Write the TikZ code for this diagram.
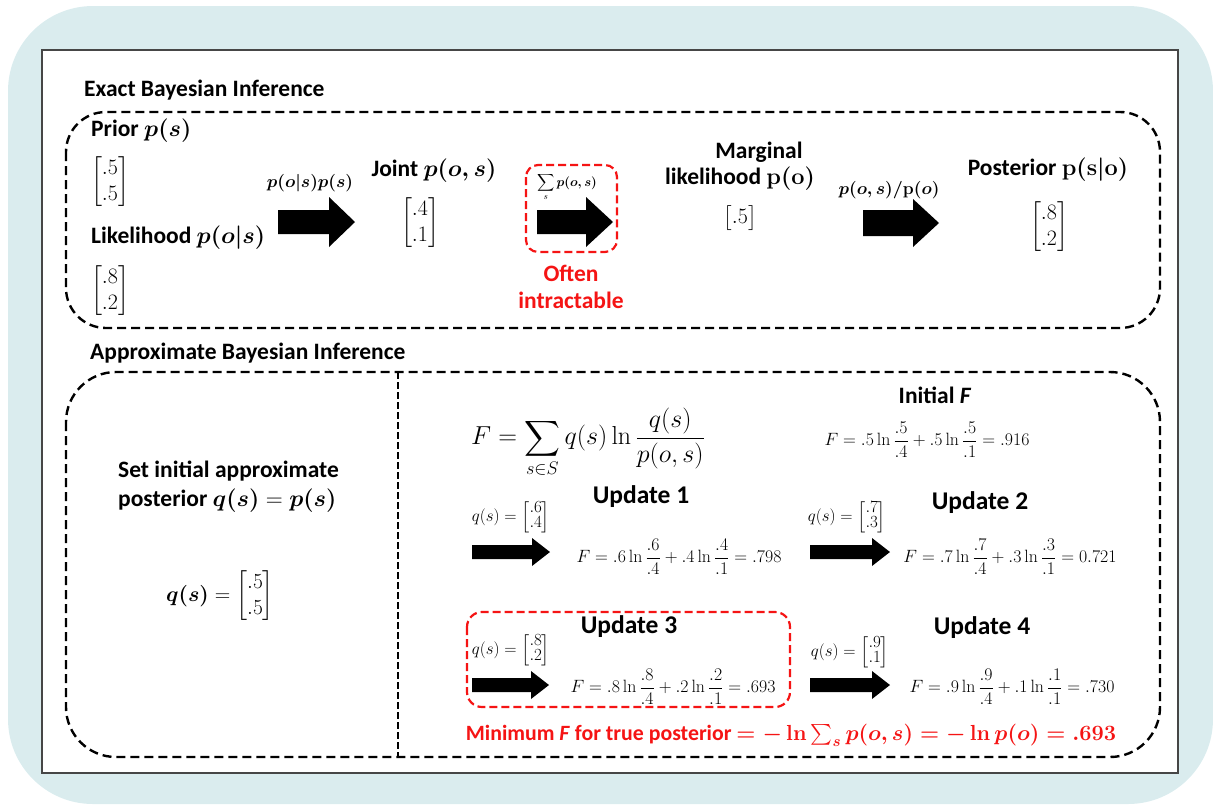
\documentclass[tikz,border=0pt]{standalone}
\usepackage{fix-cm}
\usepackage{amsmath}
\usepackage[no-math]{fontspec}
\newfontfamily\calibri{Carlito}

\definecolor{bgblue}{RGB}{218,236,238}
\definecolor{framegray}{RGB}{70,70,70}
\definecolor{alertred}{RGB}{245,20,20}

% solid block arrow: x start, x end, y, shaft half-thickness, head half-width, head length
\newcommand\blockarrow[6]{%
  \fill[black] (#1,#3-#4) -- (#2-#6,#3-#4) -- (#2-#6,#3-#5) -- (#2,#3)
    -- (#2-#6,#3+#5) -- (#2-#6,#3+#4) -- (#1,#3+#4) -- cycle;}
\newcommand\bsy[1]{\boldsymbol{#1}}
% compact two-entry column vector for the q(s) updates
\newcommand\qcol[2]{{\def\arraystretch{0.72}\begin{bmatrix}#1\\#2\end{bmatrix}}}

\tikzset{
  lbl/.style={font=\fontsize{23.5}{29}\selectfont\calibri\bfseries, inner sep=0pt},
  updlbl/.style={font=\fontsize{25.5}{30}\selectfont\calibri\bfseries, inner sep=0pt},
  redlbl/.style={lbl, text=alertred},
  eqn/.style={font=\fontsize{17.8}{21}\selectfont, inner sep=0pt},
  vecbig/.style={font=\fontsize{22}{26}\selectfont, inner sep=0pt},
  arrlbl/.style={font=\fontsize{17.5}{21}\selectfont, inner sep=0pt},
  qvec/.style={font=\fontsize{17}{20}\selectfont, inner sep=0pt},
  blackdash/.style={draw=black, line width=2.4pt, dash pattern=on 9pt off 5pt},
  thindash/.style={draw=black, line width=1.8pt, dash pattern=on 7pt off 3pt},
  reddash/.style={draw=alertred, line width=2.2pt, dash pattern=on 8pt off 4pt},
}

\begin{document}
\begin{tikzpicture}[x=1pt,y=-1pt]
\useasboundingbox (0,0) rectangle (1213,804);

% page background and white frame
\fill[bgblue, rounded corners=85pt] (8,6) rectangle (1213,804);
\draw[framegray, line width=1.6pt, fill=white] (42,50) rectangle (1178,773);

% ---------- exact inference ----------
\node[lbl, anchor=west] (hdrexact) at (84,90) {Exact Bayesian Inference};
\draw[blackdash, rounded corners=40pt] (66,112) rectangle (1160,328);

\node[lbl, anchor=west] (prior) at (91,131) {Prior $\bsy{p(s)}$};
\node[vecbig] (priorv) at (110,182) {$\begin{bmatrix}.5\\.5\end{bmatrix}$};
\node[lbl, anchor=west] (lik) at (91,238) {Likelihood $\bsy{p(o\vert s)}$};
\node[vecbig] (likv) at (110,291) {$\begin{bmatrix}.8\\.2\end{bmatrix}$};

\node[arrlbl] (prodlbl) at (310,183) {$\bsy{p(o\vert s)p(s)}$};
\blockarrow{278}{355}{222}{12}{25}{26}

\node[lbl] (joint) at (434,171) {Joint $\bsy{p(o,s)}$};
\node[vecbig] (jointv) at (420,223) {$\begin{bmatrix}.4\\.1\end{bmatrix}$};

\draw[reddash, rounded corners=12pt] (526,165) rectangle (617,252);
\node[font=\fontsize{13}{15}\selectfont, inner sep=0pt] (sumlbl) at (567,187)
  {$\displaystyle\sum_{s} \bsy{p(o,s)}$};
\blockarrow{537}{613}{222}{12}{25}{27}
\node[redlbl] (often) at (571,273) {Often};
\node[redlbl] (intract) at (571,300) {intractable};

\node[lbl] (marg) at (759,152) {Marginal};
\node[lbl] (margl) at (740,179) {likelihood $\bsy{\mathbf{p}(\mathbf{o})}$};
\node[vecbig] (margv) at (740,218) {$\begin{bmatrix}.5\end{bmatrix}$};

\node[arrlbl] (divlbl) at (889,190) {$\bsy{p(o,s)/\mathbf{p}(o)}$};
\blockarrow{863}{939}{223}{13}{24}{26}

\node[lbl] (post) at (1048,170) {Posterior $\bsy{\mathbf{p}(\mathbf{s}\vert\mathbf{o})}$};
\node[vecbig] (postv) at (1049,227) {$\begin{bmatrix}.8\\.2\end{bmatrix}$};

% ---------- approximate inference ----------
\node[lbl, anchor=west] (hdrapprox) at (90,353) {Approximate Bayesian Inference};
\draw[blackdash, rounded corners=50pt] (66,372) rectangle (1160,757);
\draw[thindash] (398,372) -- (398,757);

\node[lbl, align=left, anchor=west] (setq) at (118,487)
  {Set initial approximate\\posterior $\bsy{q(s)} = \bsy{p(s)}$};
\node[font=\fontsize{21.5}{26}\selectfont, inner sep=0pt] (q0) at (220,596)
  {$\bsy{q(s)} = \begin{bmatrix}.5\\.5\end{bmatrix}$};

\node[font=\fontsize{26}{30}\selectfont, inner sep=0pt] (Fdef) at (588,443)
  {$\displaystyle F = \sum_{s\in S} q(s)\ln\frac{q(s)}{p(o,s)}$};

\node[lbl] (initF) at (935,395) {Initial \textit{F}};
\node[eqn] (initeq) at (927,440)
  {$\displaystyle F = .5\ln\frac{.5}{.4} + .5\ln\frac{.5}{.1} = .916$};

% update 1
\node[updlbl] (u1) at (641,497) {Update 1};
\node[qvec] (q1) at (511,517) {$q(s) = \qcol{.6}{.4}$};
\blockarrow{472}{550}{552}{7}{14}{18}
\node[eqn] (f1) at (679,557)
  {$\displaystyle F = .6\ln\frac{.6}{.4} + .4\ln\frac{.4}{.1} = .798$};

% update 2
\node[updlbl] (u2) at (980,503) {Update 2};
\node[qvec] (q2) at (847,517) {$q(s) = \qcol{.7}{.3}$};
\blockarrow{810}{890}{552}{7}{14}{18}
\node[eqn] (f2) at (1010,557)
  {$\displaystyle F = .7\ln\frac{.7}{.4} + .3\ln\frac{.3}{.1} = 0.721$};

% update 3
\draw[reddash, rounded corners=15pt] (467,612) rectangle (790,707);
\node[updlbl] (u3) at (629,627) {Update 3};
\node[qvec] (q3) at (511,650) {$q(s) = \qcol{.8}{.2}$};
\blockarrow{472}{549}{685}{7}{14}{18}
\node[eqn] (f3) at (673,687)
  {$\displaystyle F = .8\ln\frac{.8}{.4} + .2\ln\frac{.2}{.1} = .693$};

% update 4
\node[updlbl] (u4) at (982,628) {Update 4};
\node[qvec] (q4) at (850,652) {$q(s) = \qcol{.9}{.1}$};
\blockarrow{810}{890}{685}{7}{14}{18}
\node[eqn] (f4) at (1012,687)
  {$\displaystyle F = .9\ln\frac{.9}{.4} + .1\ln\frac{.1}{.1} = .730$};

\node[redlbl, font=\fontsize{21.8}{26}\selectfont\calibri\bfseries] (minF) at (791,735)
  {Minimum \textit{F} for true posterior $\bsy{= -\ln \sum_s p(o,s) = -\ln p(o) = .693}$};
\end{tikzpicture}
\end{document}
